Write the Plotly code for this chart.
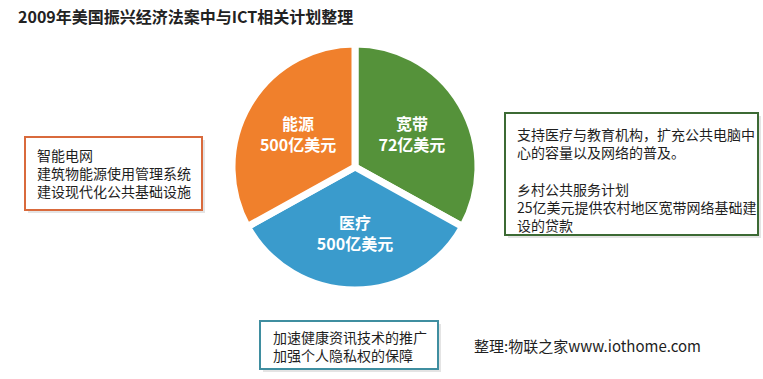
import plotly.graph_objects as go

W, H = 763, 379

# ---- data ----
slice_names = ["宽带", "医疗", "能源"]
slice_amounts = ["72亿美元", "500亿美元", "500亿美元"]
slice_share_deg = [119, 122, 119]  # angular share
slice_colors = ["#55923a", "#3a9bcc", "#f0802c"]

title_text = "2009年美国振兴经济法案中与ICT相关计划整理"
left_lines = ["智能电网", "建筑物能源使用管理系统", "建设现代化公共基础设施"]
right_lines = ["支持医疗与教育机构，扩充公共电脑中", "心的容量以及网络的普及。", "",
               "乡村公共服务计划", "25亿美元提供农村地区宽带网络基础建", "设的贷款"]
bottom_lines = ["加速健康资讯技术的推广", "加强个人隐私权的保障"]
credit_text = "整理:物联之家www.iothome.com"

FONT = "Noto Sans CJK SC, Noto Sans, sans-serif"


def px(x):
    return x / W


def py(y):
    return 1 - y / H


cx, cy, r = 355, 167, 123

fig = go.Figure(go.Pie(
    labels=slice_names,
    values=slice_share_deg,
    text=[f"{n}<br>{a}" for n, a in zip(slice_names, slice_amounts)],
    textinfo="text",
    textposition="inside",
    insidetextorientation="horizontal",
    insidetextfont=dict(family=FONT, size=16, color="white", weight="bold"),
    hoverinfo="label+text",
    sort=False,
    direction="clockwise",
    rotation=0,
    marker=dict(colors=slice_colors, line=dict(color="white", width=7)),
    domain=dict(x=[px(cx - r), px(cx + r)], y=[py(cy + r), py(cy - r)]),
    showlegend=False,
))

shapes = []
annotations = []


def box(x0, y0, x1, y1, color):
    shapes.append(dict(type="rect", xref="paper", yref="paper",
                       x0=px(x0 + 3), x1=px(x1 + 3), y0=py(y1 + 3), y1=py(y0 + 3),
                       line=dict(width=0), fillcolor="#e4e4e4", layer="below"))
    shapes.append(dict(type="rect", xref="paper", yref="paper",
                       x0=px(x0), x1=px(x1), y0=py(y1), y1=py(y0),
                       line=dict(color=color, width=2), fillcolor="white", layer="below"))


def block(x, y_top, texts, size=14):
    annotations.append(dict(xref="paper", yref="paper", x=px(x), y=py(y_top),
                            xanchor="left", yanchor="top", showarrow=False, align="left",
                            text="<br>".join(texts),
                            font=dict(family=FONT, size=size, color="#1e1e1e")))


box(25, 137, 202, 210, "#d96a3c")
block(35, 143, left_lines)

box(505, 113, 758, 235, "#3c6a34")
block(515, 122, right_lines)

box(260, 321, 438, 369, "#3f8ea0")
block(271, 325, bottom_lines)

annotations.append(dict(xref="paper", yref="paper", x=px(472), y=py(345),
                        xanchor="left", yanchor="middle", showarrow=False,
                        text=credit_text, font=dict(family=FONT, size=15, color="#1e1e1e")))

annotations.append(dict(xref="paper", yref="paper", x=px(16), y=py(16),
                        xanchor="left", yanchor="middle", showarrow=False,
                        text=title_text,
                        font=dict(family=FONT, size=16, color="#222222", weight="bold")))

fig.update_layout(
    width=W, height=H,
    margin=dict(l=0, r=0, t=0, b=0),
    paper_bgcolor="white", plot_bgcolor="white",
    shapes=shapes, annotations=annotations,
)

fig.write_html("out.html")
